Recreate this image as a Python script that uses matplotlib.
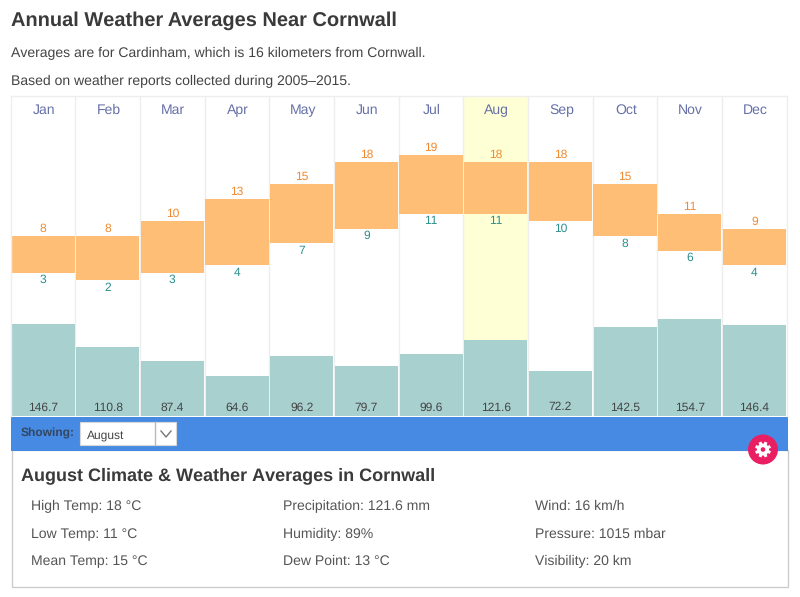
import matplotlib
matplotlib.use("Agg")
import matplotlib.pyplot as plt
from matplotlib.patches import Rectangle, Circle
from matplotlib.transforms import ScaledTranslation
import math

months = ["Jan","Feb","Mar","Apr","May","Jun","Jul","Aug","Sep","Oct","Nov","Dec"]
highs = [8,8,10,13,15,18,19,18,18,15,11,9]
lows = [3,2,3,4,7,9,11,11,10,8,6,4]
precip = [146.7,110.8,87.4,64.6,96.2,79.7,99.6,121.6,72.2,142.5,154.7,146.4]
selected = "Aug"
title = "Annual Weather Averages Near Cornwall"
subtitle_lines = ["Averages are for Cardinham, which is 16 kilometers from Cornwall.",
                  "Based on weather reports collected during 2005–2015."]
detail_title = "August Climate & Weather Averages in Cornwall"
detail_cols = [["High Temp: 18 °C","Low Temp: 11 °C","Mean Temp: 15 °C"],
               ["Precipitation: 121.6 mm","Humidity: 89%","Dew Point: 13 °C"],
               ["Wind: 16 km/h","Pressure: 1015 mbar","Visibility: 20 km"]]

plt.rcParams['font.family'] = ['Liberation Sans','DejaVu Sans']
plt.rcParams['text.hinting'] = 'none'
plt.rcParams['text.hinting_factor'] = 1
W, H = 800, 597
fig = plt.figure(figsize=(W/100, H/100), dpi=100, facecolor='white')

# page furniture in pixel coordinates
bg = fig.add_axes([0,0,1,1], zorder=0)
bg.set_xlim(0,W); bg.set_ylim(H,0); bg.axis('off')
DARK = '#3a3a3a'; GREY = '#555555'
bg.text(11, 26, title, fontsize=14.25, fontweight='bold', color=DARK, va='baseline')
bg.text(11, 57, subtitle_lines[0], fontsize=10.05, color='#444444', va='baseline')
bg.text(11, 85, subtitle_lines[1], fontsize=10.05, color='#444444', va='baseline')
bg.add_patch(Rectangle((11.5,450),776,137, fc='white', ec='#cccccc', lw=1))
bg.add_patch(Rectangle((11,417),777,34, fc='#468ae4', ec='none'))
bg.text(21, 436, "Showing:", fontsize=8.3, fontweight='bold', color='#33475f', va='baseline')
bg.add_patch(Rectangle((80,422),96,23, fc='white', ec='#d8d8d8', lw=0.8))
bg.plot([155,155],[422,445], color='#bbbbbb', lw=1)
bg.plot([161,166,171],[431,437,431], color='#777777', lw=1)
bg.text(86.5, 439, "August", fontsize=8.6, color='#444444', va='baseline')
bg.text(21, 480, detail_title, fontsize=12.9, fontweight='bold', color=DARK, va='baseline')
for x, col in zip([31,283,535], detail_cols):
    for y, s in zip([510,538,565], col):
        bg.text(x, y, s, fontsize=10.05, color=GREY, va='baseline')

# chart: temperature axis and precipitation axis share the columns
ax = fig.add_axes([10.7/W, 1-416/H, 776/W, 320/H], zorder=1)
ax.set_xlim(-0.5, 11.5)
ax.set_ylim(-16.37, 26.93)
ax.set_xticks([]); ax.set_yticks([])
for s in ax.spines.values():
    s.set_color('#eeeeee'); s.set_linewidth(1)
ax.spines['bottom'].set_visible(False)
ax2 = ax.twinx()
ax2.set_ylim(0, 512)
ax2.set_yticks([])
for s in ax2.spines.values():
    s.set_visible(False)
ax.set_zorder(2); ax2.set_zorder(1); ax2.patch.set_visible(True); ax2.patch.set_facecolor('white')
ax.patch.set_visible(False)

for i, m in enumerate(months):
    if m == selected:
        ax2.axvspan(i-0.5, i+0.5, color='#ffffd6', lw=0, zorder=0)
    if i:
        ax2.axvline(i-0.5, color='#eeeeee', lw=1, zorder=0.5)
    ax.annotate(m, (i, 1.0), xycoords=ax.get_xaxis_transform(), xytext=(1,-18), textcoords='offset pixels',
                ha='center', va='baseline', fontsize=10.05, color='#6670a8')

ax2.bar(range(12), precip, width=0.975, color='#a7d0cf', lw=0, zorder=1)
ax.bar(range(12), [h-l for h,l in zip(highs,lows)], bottom=lows, width=0.98, color='#ffbe76', lw=0, zorder=2)

for i,(h,l,p) in enumerate(zip(highs,lows,precip)):
    ax.annotate(str(h), (i,h), xytext=(0,4), textcoords='offset pixels', ha='center', va='baseline', fontsize=8.6, color='#f08a30')
    ax.annotate(str(l), (i,l), xytext=(0,-10.5), textcoords='offset pixels', ha='center', va='baseline', fontsize=8.6, color='#2a8f8c')
    ax2.text(i, 0, f"{p:.1f}", ha='center', va='baseline', fontsize=8.6, color='#444444', zorder=3,
             transform=ax2.get_xaxis_transform()+ScaledTranslation(0, 5.5/100, fig.dpi_scale_trans))

# settings button
top = fig.add_axes([0,0,1,1], zorder=5)
top.set_xlim(0,W); top.set_ylim(H,0); top.axis('off'); top.patch.set_visible(False)
cx, cy = 763, 449.5
top.add_patch(Circle((cx,cy),15, fc='#e91e63', ec='none'))
for k in range(8):
    a = k*math.pi/4 + math.pi/8
    top.plot([cx, cx+8*math.cos(a)], [cy, cy+8*math.sin(a)], color='white', lw=2.2, solid_capstyle='butt')
top.add_patch(Circle((cx,cy),6, fc='white', ec='none', zorder=3))
top.add_patch(Circle((cx,cy),2.3, fc='#e91e63', ec='none', zorder=4))

fig.savefig("out.png", dpi=100)
